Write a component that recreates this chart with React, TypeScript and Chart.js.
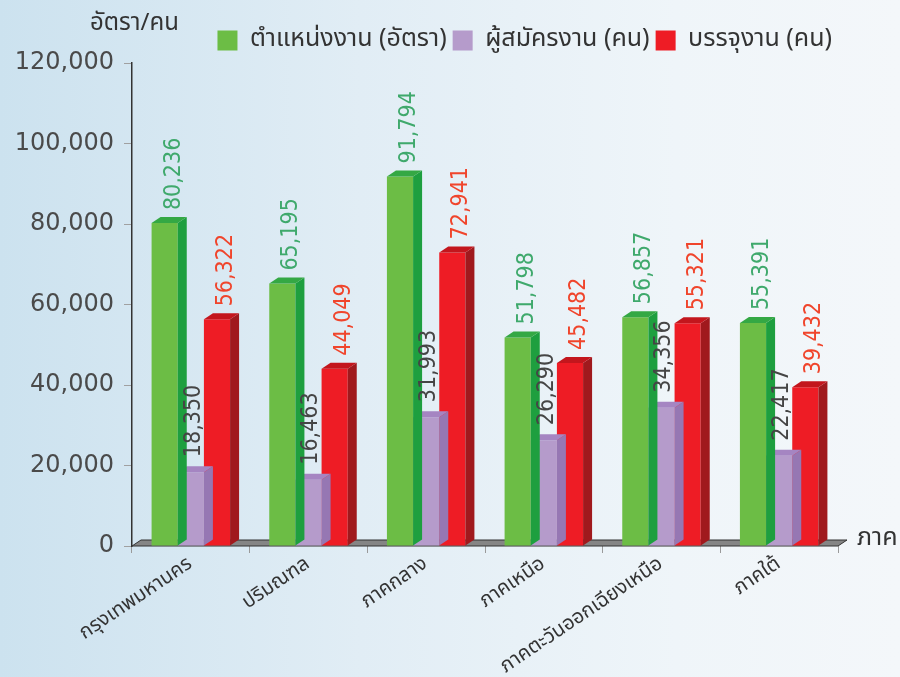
import React, { useEffect, useRef } from "react";
import { Chart, registerables } from "chart.js";

Chart.register(...registerables);

const categories = [
  "กรุงเทพมหานคร",
  "ปริมณฑล",
  "ภาคกลาง",
  "ภาคเหนือ",
  "ภาคตะวันออกเฉียงเหนือ",
  "ภาคใต้",
];
const positions = [80236, 65195, 91794, 51798, 56857, 55391];
const applicants = [18350, 16463, 31993, 26290, 34356, 22417];
const hired = [56322, 44049, 72941, 45482, 55321, 39432];
const seriesNames = ["ตำแหน่งงาน (อัตรา)", "ผู้สมัครงาน (คน)", "บรรจุงาน (คน)"];
const yTicks = [0, 20000, 40000, 60000, 80000, 100000, 120000];

const THAI = '"Noto Sans Thai", "Noto Sans Thai Looped", Loma, Garuda, Sawasdee, "Tlwg Typo", "DejaVu Sans", sans-serif';
const NUM = '"DejaVu Sans Condensed", "DejaVu Sans", sans-serif';
const YNUM = '"DejaVu Sans", sans-serif';

const frontColors = ["#6cbd45", "#b59bcb", "#ee1c25"];
const sideColors = ["#1e9f3f", "#9677b3", "#a0191d"];
const topColors = ["#34a844", "#a585c2", "#c3161d"];
const labelColors = ["#3fa96c", "#454545", "#f0452c"];
const DX = 9;
const DY = 6;

const fmt = (v: number) => v.toLocaleString("en-US");

const bar3d = {
  id: "bar3d",
  beforeDatasetsDraw(chart: any) {
    const { ctx, chartArea } = chart;
    const y0 = chart.scales.y.getPixelForValue(0);
    ctx.save();
    ctx.fillStyle = "#858585";
    ctx.strokeStyle = "#333333";
    ctx.lineWidth = 1;
    ctx.beginPath();
    ctx.moveTo(chartArea.left, y0);
    ctx.lineTo(chartArea.right, y0);
    ctx.lineTo(chartArea.right + DX, y0 - DY);
    ctx.lineTo(chartArea.left + DX, y0 - DY);
    ctx.closePath();
    ctx.fill();
    ctx.stroke();
    ctx.restore();
  },
  afterDatasetDraw(chart: any, args: any) {
    const { ctx } = chart;
    const i = args.index;
    ctx.save();
    args.meta.data.forEach((el: any) => {
      const { x, y, base, width } = el.getProps(["x", "y", "base", "width"], true);
      const l = x - width / 2;
      const r = x + width / 2;
      ctx.fillStyle = sideColors[i];
      ctx.beginPath();
      ctx.moveTo(r, y);
      ctx.lineTo(r + DX, y - DY);
      ctx.lineTo(r + DX, base - DY);
      ctx.lineTo(r, base);
      ctx.closePath();
      ctx.fill();
      ctx.fillStyle = topColors[i];
      ctx.beginPath();
      ctx.moveTo(l, y);
      ctx.lineTo(l + DX, y - DY);
      ctx.lineTo(r + DX, y - DY);
      ctx.lineTo(r, y);
      ctx.closePath();
      ctx.fill();
    });
    ctx.restore();
  },
  afterDatasetsDraw(chart: any) {
    const { ctx, chartArea } = chart;
    ctx.save();
    chart.data.datasets.forEach((ds: any, i: number) => {
      const meta = chart.getDatasetMeta(i);
      meta.data.forEach((el: any, j: number) => {
        const { x, y } = el.getProps(["x", "y"], true);
        const ox = i === 1 ? 3 : 9;
        const gap = i === 1 ? 15 : 13;
        ctx.save();
        ctx.translate(x + ox, y - gap);
        ctx.rotate(-Math.PI / 2);
        ctx.font = `23px ${NUM}`;
        ctx.fillStyle = labelColors[i];
        ctx.textAlign = "left";
        ctx.textBaseline = "middle";
        ctx.fillText(fmt(ds.data[j]), 0, 0);
        ctx.restore();
      });
    });
    ctx.font = `24px ${THAI}`;
    ctx.fillStyle = "#333";
    ctx.textAlign = "left";
    ctx.textBaseline = "middle";
    ctx.fillText("อัตรา/คน", 90, 25);
    ctx.font = `25px ${THAI}`;
    ctx.fillText("ภาค", chartArea.right + 19, chart.scales.y.getPixelForValue(0) - 6);
    ctx.restore();
  },
};

export default function App() {
  const ref = useRef<HTMLCanvasElement | null>(null);
  useEffect(() => {
    if (!ref.current) return;
    const chart = new Chart(ref.current, {
      type: "bar",
      data: {
        labels: categories,
        datasets: [
          { label: seriesNames[0], data: positions, backgroundColor: frontColors[0] },
          { label: seriesNames[1], data: applicants, backgroundColor: frontColors[1] },
          { label: seriesNames[2], data: hired, backgroundColor: frontColors[2] },
        ],
      },
      options: {
        responsive: false,
        animation: false,
        layout: { padding: { left: 0, right: 62, top: 22, bottom: 0 } },
        datasets: { bar: { categoryPercentage: 0.667, barPercentage: 1.0 } } as any,
        plugins: {
          legend: {
            position: "top",
            align: "end",
            labels: {
              boxWidth: 20,
              boxHeight: 20,
              padding: 6,
              color: "#333",
              font: { size: 25, family: THAI },
            },
          },
          tooltip: { enabled: false },
        },
        scales: {
          x: {
            grid: { display: true, drawOnChartArea: false, drawTicks: true, tickLength: 7, color: "#9a9a9a", offset: true },
            border: { display: false },
            ticks: {
              minRotation: 34,
              maxRotation: 34,
              color: "#333",
              padding: 0,
              font: { size: 20, family: THAI },
            },
            afterFit: (s: any) => {
              s.height = 131;
            },
          },
          y: {
            min: 0,
            max: 120000,
            afterBuildTicks: (s: any) => {
              s.ticks = yTicks.map((v) => ({ value: v }));
            },
            grid: { display: true, drawOnChartArea: false, drawTicks: true, tickLength: 8, color: "#a0a0a0" },
            border: { display: true, color: "#333", width: 1.5 },
            ticks: {
              color: "#4a4a4a",
              padding: 10,
              font: { size: 24, family: YNUM },
              callback: (v: any) => fmt(Number(v)),
            },
            afterFit: (s: any) => {
              s.width = 132;
            },
          },
        },
      },
      plugins: [bar3d],
    });
    return () => chart.destroy();
  }, []);
  return (
    <div
      style={{
        position: "fixed",
        left: 0,
        top: 0,
        width: 900,
        height: 677,
        background: "linear-gradient(to right, #cce2ef 0%, #e1edf5 40%, #eff5f9 75%, #f4f7fa 100%)",
      }}
    >
      <canvas ref={ref} width={900} height={677} style={{ display: "block" }} />
    </div>
  );
}
